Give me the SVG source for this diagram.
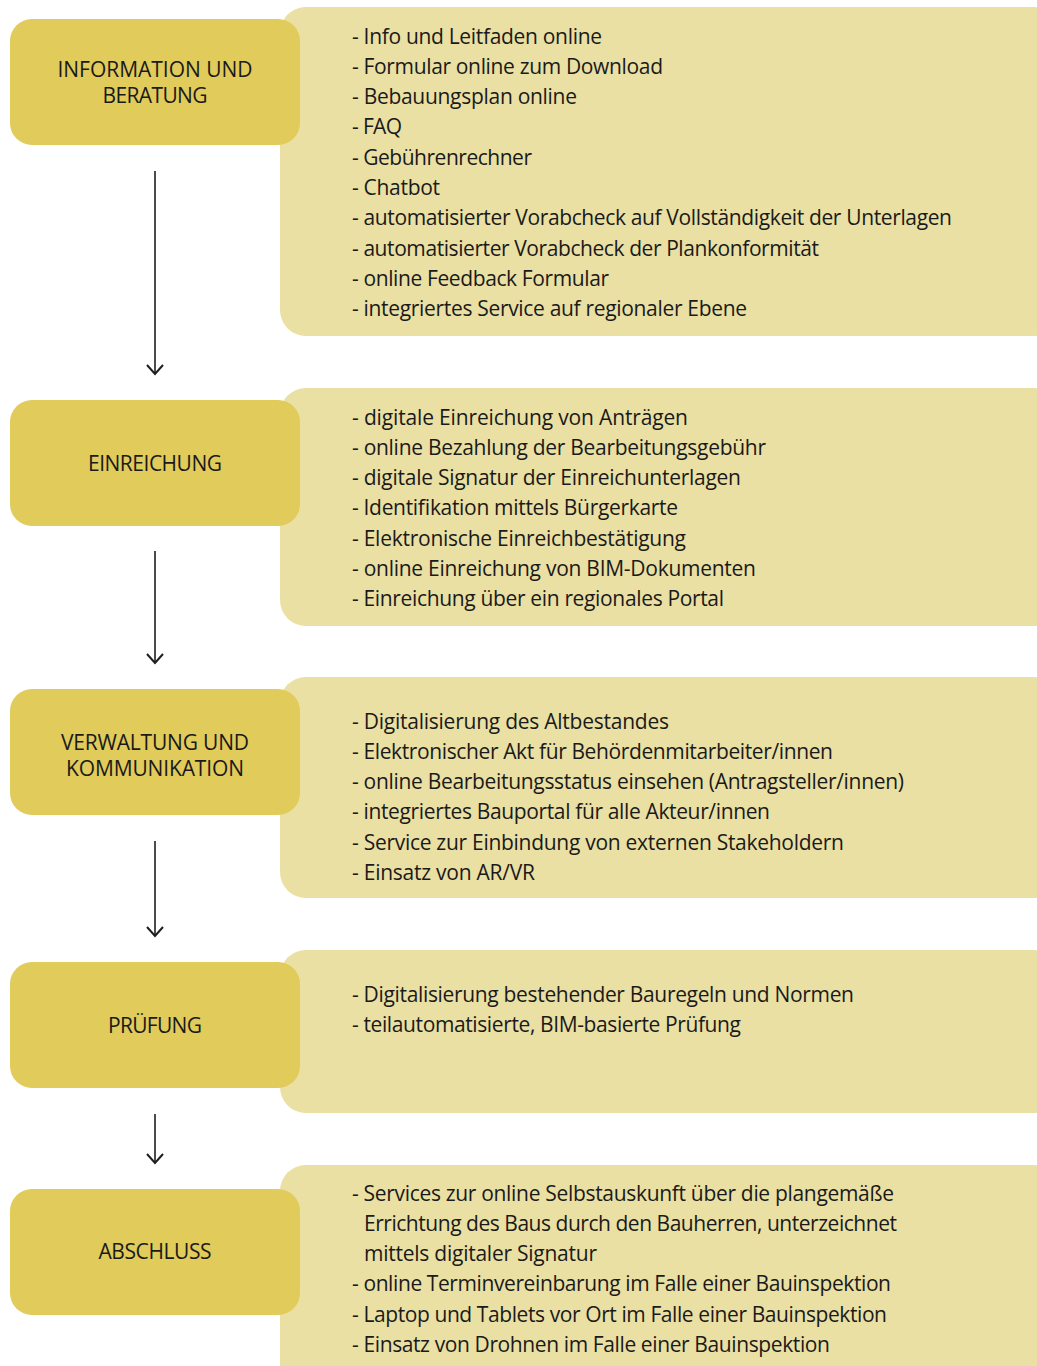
<svg xmlns="http://www.w3.org/2000/svg" width="1037" height="1366" viewBox="0 0 1037 1366">
  <defs>
    <marker id="arrowhead" markerWidth="14" markerHeight="18" refX="12" refY="9" orient="auto" markerUnits="userSpaceOnUse" viewBox="0 0 14 18">
      <polyline points="3,1 12,9 3,17" fill="none" stroke="#1e1e1e" stroke-width="2"/>
    </marker>
    <style>
      .stage { fill: #e1cb5a; }
      .panel { fill: #eae0a3; }
      .label { font-family: "Open Sans", "Noto Sans", sans-serif; font-size: 21px; fill: #1a1a1a; text-anchor: middle; }
      .item { font-family: "Open Sans", "Noto Sans", sans-serif; font-size: 21px; fill: #1a1a1a; }
      .link { stroke: #1e1e1e; stroke-width: 1.6; fill: none; marker-end: url(#arrowhead); }
    </style>
  </defs>
  <rect width="1037" height="1366" fill="#ffffff"/>

  <!-- detail panels (drawn first, stage boxes overlap them) -->
  <g id="panel-information">
    <rect class="panel" x="280" y="7" width="780" height="329" rx="26"/>
    <text class="item" x="352" y="43.5" textLength="250">- Info und Leitfaden online</text>
    <text class="item" x="352" y="73.8" textLength="311">- Formular online zum Download</text>
    <text class="item" x="352" y="104.1" textLength="225">- Bebauungsplan online</text>
    <text class="item" x="352" y="134.4" textLength="50">- FAQ</text>
    <text class="item" x="352" y="164.7" textLength="180">- Gebührenrechner</text>
    <text class="item" x="352" y="195" textLength="88">- Chatbot</text>
    <text class="item" x="352" y="225.3" textLength="600">- automatisierter Vorabcheck auf Vollständigkeit der Unterlagen</text>
    <text class="item" x="352" y="255.6" textLength="467">- automatisierter Vorabcheck der Plankonformität</text>
    <text class="item" x="352" y="285.9" textLength="257">- online Feedback Formular</text>
    <text class="item" x="352" y="316.2" textLength="395">- integriertes Service auf regionaler Ebene</text>
  </g>

  <g id="panel-einreichung">
    <rect class="panel" x="280" y="388" width="780" height="238" rx="26"/>
    <text class="item" x="352" y="424.5" textLength="336">- digitale Einreichung von Anträgen</text>
    <text class="item" x="352" y="454.8" textLength="414">- online Bezahlung der Bearbeitungsgebühr</text>
    <text class="item" x="352" y="485.1" textLength="389">- digitale Signatur der Einreichunterlagen</text>
    <text class="item" x="352" y="515.4" textLength="326">- Identifikation mittels Bürgerkarte</text>
    <text class="item" x="352" y="545.7" textLength="334">- Elektronische Einreichbestätigung</text>
    <text class="item" x="352" y="576" textLength="404">- online Einreichung von BIM-Dokumenten</text>
    <text class="item" x="352" y="606.3" textLength="372">- Einreichung über ein regionales Portal</text>
  </g>

  <g id="panel-verwaltung">
    <rect class="panel" x="280" y="677" width="780" height="221" rx="26"/>
    <text class="item" x="352" y="728.5" textLength="317">- Digitalisierung des Altbestandes</text>
    <text class="item" x="352" y="758.8" textLength="481">- Elektronischer Akt für Behördenmitarbeiter/innen</text>
    <text class="item" x="352" y="789.1" textLength="552">- online Bearbeitungsstatus einsehen (Antragsteller/innen)</text>
    <text class="item" x="352" y="819.4" textLength="418">- integriertes Bauportal für alle Akteur/innen</text>
    <text class="item" x="352" y="849.7" textLength="492">- Service zur Einbindung von externen Stakeholdern</text>
    <text class="item" x="352" y="880" textLength="183">- Einsatz von AR/VR</text>
  </g>

  <g id="panel-pruefung">
    <rect class="panel" x="280" y="950" width="780" height="163" rx="26"/>
    <text class="item" x="352" y="1001.5" textLength="502">- Digitalisierung bestehender Bauregeln und Normen</text>
    <text class="item" x="352" y="1031.8" textLength="389">- teilautomatisierte, BIM-basierte Prüfung</text>
  </g>

  <g id="panel-abschluss">
    <rect class="panel" x="280" y="1165" width="780" height="230" rx="26"/>
    <text class="item" x="352" y="1200.5" textLength="542">- Services zur online Selbstauskunft über die plangemäße</text>
    <text class="item" x="364" y="1230.8" textLength="533">Errichtung des Baus durch den Bauherren, unterzeichnet</text>
    <text class="item" x="364" y="1261.1" textLength="233">mittels digitaler Signatur</text>
    <text class="item" x="352" y="1291.4" textLength="539">- online Terminvereinbarung im Falle einer Bauinspektion</text>
    <text class="item" x="352" y="1321.7" textLength="535">- Laptop und Tablets vor Ort im Falle einer Bauinspektion</text>
    <text class="item" x="352" y="1352" textLength="478">- Einsatz von Drohnen im Falle einer Bauinspektion</text>
  </g>

  <!-- process stages -->
  <g id="stage-information">
    <rect class="stage" x="10" y="19" width="290" height="126" rx="22"/>
    <text class="label" x="155" y="76.5" textLength="195">INFORMATION UND</text>
    <text class="label" x="155" y="102.5" textLength="105">BERATUNG</text>
  </g>
  <g id="stage-einreichung">
    <rect class="stage" x="10" y="400" width="290" height="126" rx="22"/>
    <text class="label" x="155" y="470.5" textLength="134">EINREICHUNG</text>
  </g>
  <g id="stage-verwaltung">
    <rect class="stage" x="10" y="689" width="290" height="126" rx="22"/>
    <text class="label" x="155" y="749.5" textLength="188">VERWALTUNG UND</text>
    <text class="label" x="155" y="775.5" textLength="178">KOMMUNIKATION</text>
  </g>
  <g id="stage-pruefung">
    <rect class="stage" x="10" y="962" width="290" height="126" rx="22"/>
    <text class="label" x="155" y="1032.5" textLength="94">PRÜFUNG</text>
  </g>
  <g id="stage-abschluss">
    <rect class="stage" x="10" y="1189" width="290" height="126" rx="22"/>
    <text class="label" x="155" y="1258.5" textLength="113">ABSCHLUSS</text>
  </g>

  <!-- flow between stages -->
  <g id="connectors">
    <line class="link" x1="155" y1="171" x2="155" y2="374"/>
    <line class="link" x1="155" y1="551" x2="155" y2="663"/>
    <line class="link" x1="155" y1="841" x2="155" y2="936"/>
    <line class="link" x1="155" y1="1114" x2="155" y2="1163"/>
  </g>
</svg>
